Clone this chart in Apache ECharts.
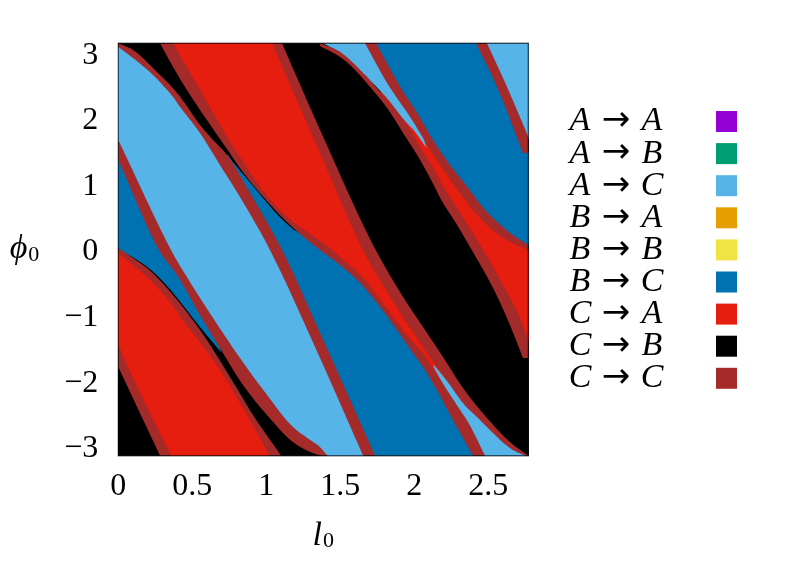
<!DOCTYPE html>
<html>
<head>
<meta charset="utf-8">
<style>html,body{margin:0;padding:0;background:#fff}#c{width:809px;height:565px}</style>
<script src="https://cdn.jsdelivr.net/npm/echarts@6/dist/echarts.min.js"></script>
</head>
<body>
<div id="c"></div>
<script>
// Axis ranges and ticks
var L_MAX = 2.77, PHI = 3.1416;
var xTicks = [0, 0.5, 1, 1.5, 2, 2.5];
var yTicks = [-3, -2, -1, 0, 1, 2, 3];
var transitions = ['A → A','A → B','A → C','B → A','B → B','B → C','C → A','C → B','C → C'];
var colors = ['#9400D3','#009E73','#56B4E9','#E69F00','#F0E442','#0072B2','#E51E10','#000000','#A52A2A'];

// Boundary curves, as [l0, phi0]
var b1Upper = [[0,-1.456],[.099,-1.959],[.356,-PHI]];
var b1Lower = [[0,-1.791],[.282,-PHI]];
var a1Upper = [[0,.023],[.099,-.130],[.194,-.282],[.329,-.587],[.552,-1.227],[.775,-2.020],[.910,-2.523],[1.100,-PHI]];
var a1Lower = [[0,-.053],[.194,-.419],[.329,-.739],[.437,-1.075],[.667,-1.761],[.843,-2.416],[1.012,-3.102],[1.018,-PHI]];
var b2Lower = [[0,1.364],[.275,-.008],[.397,-.389],[.552,-.998],[.687,-1.502],[.843,-2.066],[1.005,-2.523],[1.180,-2.934],[1.315,-3.102],[1.376,-PHI]];
var b2Upper = [[0,1.669],[.356,-.008],[.484,-.495],[.640,-1.044],[.822,-1.654],[1.005,-2.218],[1.180,-2.706],[1.363,-3.011],[1.403,-3.117],[1.417,-PHI]];
var b3Inner = [[0,3.087],[.099,2.919],[.234,2.660],[.370,2.325],[.417,2.173],[.552,1.776],[.687,1.288],[.822,.800],[1.025,-.008],[1.363,-1.654],[1.654,-PHI]];
var b3Outer = [[0,PHI],[.099,3.041],[.261,2.706],[.397,2.386],[.552,1.898],[.640,1.669],[.734,1.441],[.890,.861],[1.106,-.008],[1.363,-1.273],[1.735,-PHI]];
var b4Upper = [[.370,PHI],[.484,2.691],[.532,2.508],[.640,2.081],[.734,1.715],[.843,1.334],[.957,.953],[1.072,.648],[1.180,.419],[1.363,.130],[1.498,-.114],[1.654,-.434],[1.856,-1.029],[1.951,-1.303],[2.039,-1.532],[2.106,-1.745],[2.221,-2.142],[2.309,-2.447],[2.363,-2.631],[2.478,-PHI]];
var b4Lower = [[.282,PHI],[.370,2.782],[.451,2.477],[.552,2.126],[.640,1.837],[.734,1.533],[.822,1.242],[.910,.983],[1.072,.572],[1.228,.236],[1.363,-.008],[1.498,-.236],[1.634,-.511],[1.769,-.877],[1.883,-1.227],[1.991,-1.578],[2.059,-1.791],[2.153,-2.142],[2.262,-2.600],[2.397,-PHI]];
var b5Left = [[1.039,PHI],[1.363,1.471],[1.654,-.008],[1.789,-.541],[1.924,-1.029],[2.019,-1.349],[2.106,-1.639],[2.241,-2.066],[2.329,-2.340],[2.430,-2.569],[2.646,-3.026],[2.748,-PHI]];
var b5Right = [[1.106,PHI],[1.363,1.822],[1.721,.069],[1.937,-.770],[2.059,-1.181],[2.194,-1.639],[2.329,-2.111],[2.491,-2.569],[2.646,-2.934],[L_MAX,-PHI]];
var b6Black = [[1.363,3.1],[1.498,2.934],[1.586,2.767],[1.701,2.477],[1.816,2.157],[1.924,1.776],[2.019,1.441],[2.106,1.090],[2.194,.709],[2.285,.389],[2.376,.038],[2.532,-.587],[2.646,-1.151],[2.734,-1.654]];
var b6Red = [[1.363,PHI],[1.498,3.011],[1.654,2.691],[1.769,2.401],[1.836,2.233],[1.951,1.898],[2.039,1.563],[2.126,1.242],[2.208,.907],[2.309,.556],[2.464,-.008],[2.599,-.541],[2.714,-1.044],[L_MAX,-1.380]];
var b7Left = [[1.667,PHI],[1.816,2.538],[1.971,2.020],[2.059,1.700],[2.120,1.471],[2.221,1.136],[2.309,.861],[2.397,.602],[2.512,.328],[2.626,.145],[L_MAX,-.008]];
var b7Right = [[1.742,PHI],[1.917,2.431],[2.019,2.081],[2.126,1.669],[2.241,1.288],[2.363,.937],[2.478,.602],[2.646,.252],[L_MAX,.069]];
var b8Left = [[2.417,PHI],[2.559,2.477],[2.734,1.471]];
var b8Right = [[2.491,PHI],[2.626,2.477],[L_MAX,1.715]];

// Slim edges where a thin line of the neighbouring region shows through
var blueLeftEdge = [[0,.023],[.194,-.252],[.329,-.541],[.552,-1.166],[.687,-1.532]];
var blueMidEdge = [[.768,1.334],[.910,.953],[1.072,.526],[1.180,.297]];
var wedgeTopEdge = [[1.39,PHI],[1.498,3.011],[1.654,2.691],[1.769,2.431],[1.836,2.264],[1.924,2.005],[2.005,1.807],[2.072,1.593]];
var wedgeTip = [[2.13,-1.77]];

function rev(a){ return a.slice().reverse(); }

// Draw an edge as a smooth curve through its read points (centripetal spline)
function sm(a){
  if(a.length<3) return a.slice();
  var out=[a[0]];
  function knot(t,p,q){ return t+Math.pow(Math.hypot((q[0]-p[0])*148,(q[1]-p[1])*65.6),0.5); }
  function mix(p,q,t,t0,t1){ var k=(t-t0)/(t1-t0); return [p[0]+(q[0]-p[0])*k,p[1]+(q[1]-p[1])*k]; }
  for(var i=0;i<a.length-1;i++){
    var p1=a[i],p2=a[i+1];
    var p0=i>0?a[i-1]:[2*p1[0]-p2[0],2*p1[1]-p2[1]];
    var p3=i<a.length-2?a[i+2]:[2*p2[0]-p1[0],2*p2[1]-p1[1]];
    var t0=0,t1=knot(t0,p0,p1),t2=knot(t1,p1,p2),t3=knot(t2,p2,p3);
    for(var s=1;s<=8;s++){
      var t=t1+(t2-t1)*s/8;
      var A1=mix(p0,p1,t,t0,t1),A2=mix(p1,p2,t,t1,t2),A3=mix(p2,p3,t,t2,t3);
      var B1=mix(A1,A2,t,t0,t2),B2=mix(A2,A3,t,t1,t3);
      out.push(mix(B1,B2,t,t1,t2));
    }
  }
  return out;
}
function band(a,b){ return sm(a).concat(rev(sm(b))); }

var plotRect = [[0,-PHI],[L_MAX,-PHI],[L_MAX,PHI],[0,PHI]];

var lightBlueRegions = [
  sm(b2Upper).concat(rev(sm(b3Inner))),
  wedgeTip.concat(sm(b4Upper.slice(16)), rev(sm(b5Left.slice(7)))),
  sm(wedgeTopEdge).concat(rev(sm(b7Left.slice(0,4)))),
  sm(b8Right).concat([[L_MAX,PHI]])
];
var blueRegions = [
  sm(b2Upper.slice(0,4)).concat(rev(sm(blueLeftEdge))),
  sm(blueMidEdge).concat(sm(b4Lower.slice(9)), rev(sm(b3Outer.slice(6)))),
  sm(b7Right).concat([[L_MAX,1.471]],rev(sm(b8Left)))
];
var redRegions = [
  sm(a1Lower).concat(rev(sm(b1Upper))),
  sm(b4Upper.slice(0,17)).concat(rev(sm(b5Left.slice(0,8)))),
  sm(b6Red.slice(3)).concat(rev(sm(b7Left.slice(2))))
];
var blackRegions = [plotRect];
var brownBands = [
  band(b1Upper,b1Lower),
  band(a1Upper,a1Lower),
  band(b2Upper,b2Lower),
  band(b3Outer,b3Inner),
  band(b4Upper,b4Lower),
  band(b5Right,b5Left),
  sm(b6Red).concat([[L_MAX,-1.654]],rev(sm(b6Black))),
  band(b7Right,b7Left),
  sm(b8Right).concat([[L_MAX,1.471]],rev(sm(b8Left)))
];
var regions = {'A → C':lightBlueRegions,'B → C':blueRegions,'C → A':redRegions,'C → B':blackRegions,'C → C':brownBands};
var layer = {'C → B':1,'B → C':2,'C → A':2,'A → C':3,'C → C':4};

function polySeries(name,color,polys,z){
  return {
    type:'custom', name:name, coordinateSystem:'cartesian2d', clip:true, z:z,
    itemStyle:{color:color},
    data:polys.map(function(p,i){return [i];}),
    encode:{x:0,y:0},
    silent:true,
    renderItem:function(params,api){
      var pts = polys[params.dataIndex].map(function(p){return api.coord(p);});
      return {type:'polygon',shape:{points:pts},style:{fill:color,stroke:name==='C → C'?null:color,lineWidth:1.2}};
    }
  };
}

var series = transitions.map(function(t,i){
  return polySeries(t,colors[i],regions[t]||[],layer[t]||2);
});
series.push({
  type:'custom', name:'frame', coordinateSystem:'cartesian2d', clip:false, z:5, silent:true,
  data:[[0]], encode:{x:0,y:0},
  renderItem:function(params,api){
    return {type:'polygon',shape:{points:plotRect.map(function(p){return api.coord(p);})},
      style:{fill:'none',stroke:'rgba(0,0,0,0.55)',lineWidth:1.4}};
  }
});

var serif = '"Liberation Serif", serif';
var chart = echarts.init(document.getElementById('c'),null,{renderer:'canvas'});
chart.setOption({
  animation:false,
  backgroundColor:'#fff',
  grid:{left:118.3,right:280.7,top:43.3,bottom:109.3,outerBoundsMode:'none'},
  xAxis:{
    type:'value',min:0,max:L_MAX,
    axisLine:{show:false},axisTick:{show:false},splitLine:{show:false},
    axisLabel:{customValues:xTicks,fontFamily:serif,fontSize:32,color:'#000',margin:15,
      formatter:function(v){return String(v);}},
    name:'{i|l}{s|0}',nameLocation:'middle',nameGap:63,
    nameTextStyle:{rich:{
      i:{fontFamily:serif,fontStyle:'italic',fontSize:34,color:'#000'},
      s:{fontFamily:serif,fontSize:22,color:'#000',padding:[12,0,0,1]}
    }}
  },
  yAxis:{
    type:'value',min:-PHI,max:PHI,
    axisLine:{show:false},axisTick:{show:false},splitLine:{show:false},
    axisLabel:{customValues:yTicks,fontFamily:serif,fontSize:32,color:'#000',margin:20,
      verticalAlign:'middle',lineHeight:32,
      formatter:function(v){return '{v|'+(v<0?'−'+(-v):String(v))+'}';},
      rich:{v:{fontFamily:serif,fontSize:32,color:'#000',padding:[5,0,0,0]}}},
    name:'{i|ϕ}{s|0}',nameLocation:'middle',nameGap:79,nameRotate:0,
    nameTextStyle:{rich:{
      i:{fontFamily:serif,fontStyle:'italic',fontSize:34,color:'#000'},
      s:{fontFamily:serif,fontSize:22,color:'#000',padding:[12,0,0,1]}
    }}
  },
  legend:{
    data:transitions,orient:'vertical',align:'right',left:565,top:104.5,
    padding:0,itemWidth:21,itemHeight:21,itemGap:-1.9,icon:'rect',selectedMode:false,
    formatter:function(n){
      var p=n.split(' → ');
      return '{i|'+p[0]+'}{a|→}{i|'+p[1]+'}{g|}';
    },
    textStyle:{rich:{
      i:{fontFamily:serif,fontStyle:'italic',fontSize:34,color:'#000',width:30,height:21,align:'center',lineHeight:21},
      a:{fontFamily:'"DejaVu Sans"',fontSize:34,color:'#000',width:42,height:21,align:'center',lineHeight:21},
      g:{width:44,height:21,lineHeight:21}
    }}
  },
  series:series
});
</script>
</body>
</html>
